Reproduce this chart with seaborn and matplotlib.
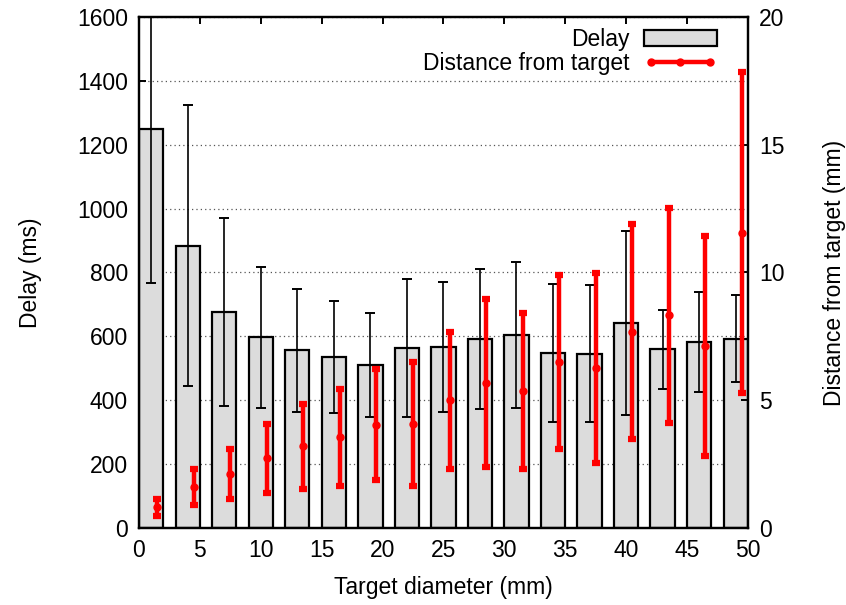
import numpy as np
import pandas as pd
import matplotlib
matplotlib.use("Agg")
import matplotlib.pyplot as plt
import seaborn as sns
from matplotlib.patches import Patch
from matplotlib.lines import Line2D

# Datos
diametro = [1, 4, 7, 10, 13, 16, 19, 22, 25, 28, 31, 34, 37, 40, 43, 46, 49]
delay_media = [1248, 884, 677, 597, 556, 536, 510, 564, 567, 592, 604, 548, 546, 642, 559, 582, 593]
delay_std = [482, 439, 295, 220, 192, 175, 163, 215, 203, 220, 229, 215, 215, 288, 125, 156, 135]
dist_media = [0.81, 1.60, 2.12, 2.72, 3.20, 3.55, 4.05, 4.07, 4.99, 5.69, 5.35, 6.51, 6.26, 7.68, 8.33, 7.12, 11.56]
dist_std = [0.33, 0.69, 0.98, 1.36, 1.66, 1.90, 2.17, 2.41, 2.70, 3.29, 3.06, 3.40, 3.71, 4.21, 4.21, 4.30, 6.28]
offset_rojo = 0.5

df = pd.DataFrame({"diametro": diametro, "delay": delay_media})

sns.set_style("ticks", {"text.color": "black", "axes.labelcolor": "black",
                        "xtick.color": "black", "ytick.color": "black",
                        "axes.edgecolor": "black"})
plt.rcParams["font.family"] = ["Liberation Sans", "DejaVu Sans"]
fs = 16.5

fig = plt.figure(figsize=(8.46, 6.05), dpi=100)
ax = fig.add_axes([0.1643, 0.1273, 0.7197, 0.8446])

# Barras de retardo
sns.barplot(data=df, x="diametro", y="delay", native_scale=True, width=2/3,
            color="#dcdcdc", saturation=1, edgecolor="black", linewidth=1.6,
            errorbar=None, ax=ax, zorder=2)
ax.errorbar(diametro, delay_media, yerr=delay_std, fmt="none", ecolor="black",
            elinewidth=1.2, capsize=3.3, capthick=1.4, zorder=3)

ax.set_xlim(0, 50)
ax.set_ylim(0, 1600)
ax.set_xticks(range(0, 51, 5))
ax.set_yticks(range(0, 1601, 200))
ax.yaxis.grid(True, linestyle=(0, (1, 2.5)), color="#555555", linewidth=0.9)
ax.set_axisbelow(True)
ax.tick_params(direction="in", length=5, width=1.4, labelsize=fs, top=True, right=False, pad=8)
ax.set_xlabel("Target diameter (mm)", fontsize=fs, labelpad=10)
ax.set_ylabel("Delay (ms)", fontsize=fs, labelpad=25)
for s in ax.spines.values():
    s.set_linewidth(1.6)

# Distancia al objetivo (eje derecho)
ax2 = ax.twinx()
x_rojo = [d + offset_rojo for d in diametro]
ax2.errorbar(x_rojo, dist_media, yerr=dist_std, fmt="o", color="red", ms=5,
             elinewidth=3.2, capsize=3.0, capthick=4.5, zorder=4)
ax2.set_ylim(0, 20)
ax2.set_yticks(range(0, 21, 5))
ax2.tick_params(direction="in", length=5, width=1.4, labelsize=fs, pad=8)
ax2.set_ylabel("Distance from target (mm)", fontsize=fs, labelpad=28)
for s in ax2.spines.values():
    s.set_linewidth(1.6)

handles = [Patch(facecolor="#dcdcdc", edgecolor="black", linewidth=1.6),
           Line2D([0], [0], color="red", lw=3.2, marker="o", ms=5)]
ax2.legend(handles, ["Delay", "Distance from target"], loc="upper right",
           bbox_to_anchor=(0.972, 1.006),
           frameon=False, markerfirst=False, fontsize=fs, handlelength=3.2,
           numpoints=3, borderaxespad=0.2, handletextpad=0.6, labelspacing=0.05)

fig.savefig("out.png", dpi=100)
